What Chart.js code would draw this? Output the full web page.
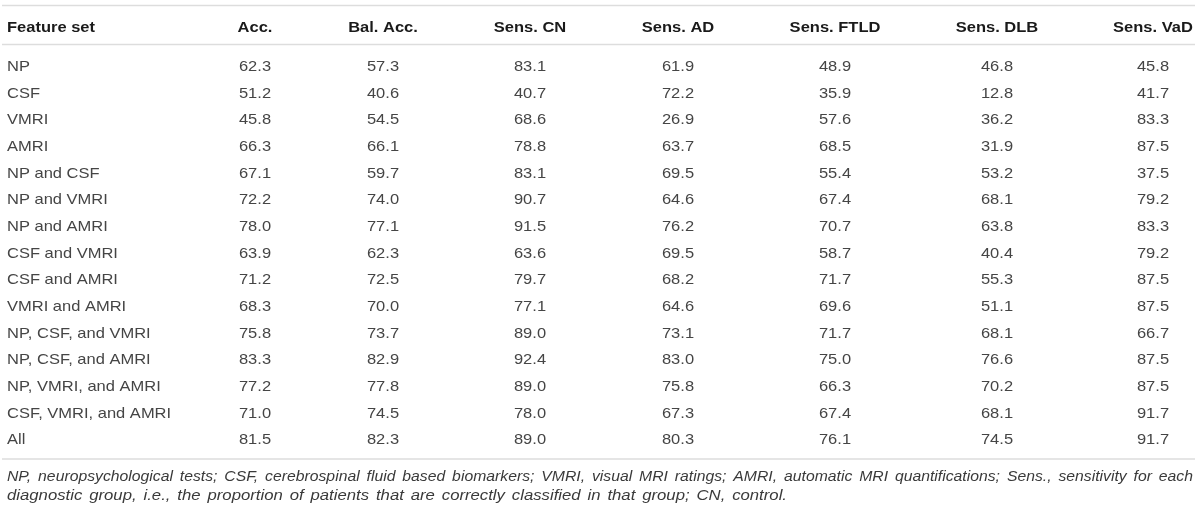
<!DOCTYPE html>
<html>
<head>
<meta charset="utf-8">
<script src="https://cdn.jsdelivr.net/npm/chart.js@4"></script>
<style>
  html, body { margin: 0; padding: 0; background: #ffffff; }
  #wrap { width: 1200px; height: 511px; }
</style>
</head>
<body>
<div id="wrap"><canvas id="c" width="1200" height="511"></canvas></div>
<script>
// ---------- DATA ----------
const columnHeaders = ['Feature set', 'Acc.', 'Bal. Acc.', 'Sens. CN', 'Sens. AD', 'Sens. FTLD', 'Sens. DLB', 'Sens. VaD'];
const featureSets = [
  'NP', 'CSF', 'VMRI', 'AMRI', 'NP and CSF', 'NP and VMRI', 'NP and AMRI',
  'CSF and VMRI', 'CSF and AMRI', 'VMRI and AMRI', 'NP, CSF, and VMRI',
  'NP, CSF, and AMRI', 'NP, VMRI, and AMRI', 'CSF, VMRI, and AMRI', 'All'
];
const acc      = [62.3, 51.2, 45.8, 66.3, 67.1, 72.2, 78.0, 63.9, 71.2, 68.3, 75.8, 83.3, 77.2, 71.0, 81.5];
const balAcc   = [57.3, 40.6, 54.5, 66.1, 59.7, 74.0, 77.1, 62.3, 72.5, 70.0, 73.7, 82.9, 77.8, 74.5, 82.3];
const sensCN   = [83.1, 40.7, 68.6, 78.8, 83.1, 90.7, 91.5, 63.6, 79.7, 77.1, 89.0, 92.4, 89.0, 78.0, 89.0];
const sensAD   = [61.9, 72.2, 26.9, 63.7, 69.5, 64.6, 76.2, 69.5, 68.2, 64.6, 73.1, 83.0, 75.8, 67.3, 80.3];
const sensFTLD = [48.9, 35.9, 57.6, 68.5, 55.4, 67.4, 70.7, 58.7, 71.7, 69.6, 71.7, 75.0, 66.3, 67.4, 76.1];
const sensDLB  = [46.8, 12.8, 36.2, 31.9, 53.2, 68.1, 63.8, 40.4, 55.3, 51.1, 68.1, 76.6, 70.2, 68.1, 74.5];
const sensVaD  = [45.8, 41.7, 83.3, 87.5, 37.5, 79.2, 83.3, 79.2, 87.5, 87.5, 66.7, 87.5, 87.5, 91.7, 91.7];
const footnoteLines = [
  'NP, neuropsychological tests; CSF, cerebrospinal fluid based biomarkers; VMRI, visual MRI ratings; AMRI, automatic MRI quantifications; Sens., sensitivity for each',
  'diagnostic group, i.e., the proportion of patients that are correctly classified in that group; CN, control.'
];

// ---------- LAYOUT (not data) ----------
const W = 1200, H = 511;
const layout = {
  labelX: 7,
  colCenters: [255, 383, 530, 678, 835, 997, 1153],
  firstRowY: 65.6,
  rowStep: 26.66,
  headerY: 26.3,
  rulesY: [5.5, 44.6, 459],
  ruleX0: 2, ruleX1: 1195,
  footY: [475.5, 494.5],
  footX0: 7,
  footLineEnds: [1193, 787],
  fontFamily: '"Liberation Sans", Arial, Helvetica, sans-serif',
  bodySize: 15,
  headSize: 15,
  footSize: 15,
  textScaleX: 1.1,
  footScaleX: 1.05,
  bodyColor: '#454545',
  headColor: '#1a1a1a',
  footColor: '#3a3a3a',
  ruleColor: '#dddddd'
};
const toRow = px => (px - layout.firstRowY) / layout.rowStep;

const valueSeries = [acc, balAcc, sensCN, sensAD, sensFTLD, sensDLB, sensVaD];

const datasets = [];
datasets.push({
  label: columnHeaders[0],
  data: featureSets.map((name, i) => ({ x: layout.labelX, y: i, text: name })),
  textAlign: 'left'
});
valueSeries.forEach((series, c) => {
  datasets.push({
    label: columnHeaders[c + 1],
    data: series.map((v, i) => ({ x: layout.colCenters[c], y: i, text: v.toFixed(1) })),
    textAlign: 'center'
  });
});
datasets.forEach(d => { d.pointRadius = 0; d.pointHoverRadius = 0; d.showLine = false; });

function capOffset(size) { return size * 0.716 / 2; }
function drawText(ctx, t, x, y, sx) {
  ctx.save();
  ctx.translate(x, y);
  ctx.scale(sx, 1);
  ctx.fillText(t, 0, 0);
  ctx.restore();
}

const tablePlugin = {
  id: 'tableText',
  beforeDraw(chart) {
    const ctx = chart.ctx;
    ctx.save();
    ctx.fillStyle = '#ffffff';
    ctx.fillRect(0, 0, chart.width, chart.height);
    ctx.restore();
  },
  afterDatasetsDraw(chart) {
    const ctx = chart.ctx;
    const xs = chart.scales.x, ys = chart.scales.y;
    const sx = layout.textScaleX;
    ctx.save();
    // rules
    ctx.strokeStyle = layout.ruleColor;
    ctx.lineWidth = 1.5;
    layout.rulesY.forEach(py => {
      const y = ys.getPixelForValue(toRow(py));
      ctx.beginPath();
      ctx.moveTo(xs.getPixelForValue(layout.ruleX0), y);
      ctx.lineTo(xs.getPixelForValue(layout.ruleX1), y);
      ctx.stroke();
    });
    // header
    ctx.textBaseline = 'alphabetic';
    ctx.font = 'bold ' + layout.headSize + 'px ' + layout.fontFamily;
    ctx.fillStyle = layout.headColor;
    const hy = ys.getPixelForValue(toRow(layout.headerY)) + capOffset(layout.headSize);
    chart.data.datasets.forEach((ds, di) => {
      const el = chart.getDatasetMeta(di).data[0];
      ctx.textAlign = ds.textAlign;
      drawText(ctx, ds.label, el.x, hy, sx);
    });
    // body cells
    ctx.font = layout.bodySize + 'px ' + layout.fontFamily;
    ctx.fillStyle = layout.bodyColor;
    chart.data.datasets.forEach((ds, di) => {
      const meta = chart.getDatasetMeta(di);
      ctx.textAlign = ds.textAlign;
      meta.data.forEach((el, i) => {
        drawText(ctx, ds.data[i].text, el.x, el.y + capOffset(layout.bodySize), sx);
      });
    });
    // footnote: first line justified; last line keeps the same word gap
    ctx.font = 'italic ' + layout.footSize + 'px ' + layout.fontFamily;
    ctx.fillStyle = layout.footColor;
    ctx.textAlign = 'left';
    const x0 = xs.getPixelForValue(layout.footX0);
    const rawW = ws => ws.reduce((s, w) => s + ctx.measureText(w).width, 0);
    const w1 = footnoteLines[0].split(' ');
    const g1 = (xs.getPixelForValue(layout.footLineEnds[0]) - x0 - rawW(w1) * layout.footScaleX) / (w1.length - 1);
    footnoteLines.forEach((line, li) => {
      const y = ys.getPixelForValue(toRow(layout.footY[li])) + capOffset(layout.footSize);
      const words = line.split(' ');
      const x1 = xs.getPixelForValue(layout.footLineEnds[li]);
      const fsx = li === 0 ? layout.footScaleX : (x1 - x0 - g1 * (words.length - 1)) / rawW(words);
      let x = x0;
      words.forEach(w => { drawText(ctx, w, x, y, fsx); x += ctx.measureText(w).width * fsx + g1; });
    });
    ctx.restore();
  }
};

new Chart(document.getElementById('c'), {
  type: 'scatter',
  data: { datasets },
  options: {
    responsive: false,
    animation: false,
    events: [],
    layout: { padding: 0 },
    plugins: { legend: { display: false }, tooltip: { enabled: false }, title: { display: false } },
    scales: {
      x: { type: 'linear', display: false, min: 0, max: W },
      y: { type: 'linear', display: false, reverse: true,
           min: -layout.firstRowY / layout.rowStep, max: (H - layout.firstRowY) / layout.rowStep }
    }
  },
  plugins: [tablePlugin]
});
</script>
</body>
</html>
